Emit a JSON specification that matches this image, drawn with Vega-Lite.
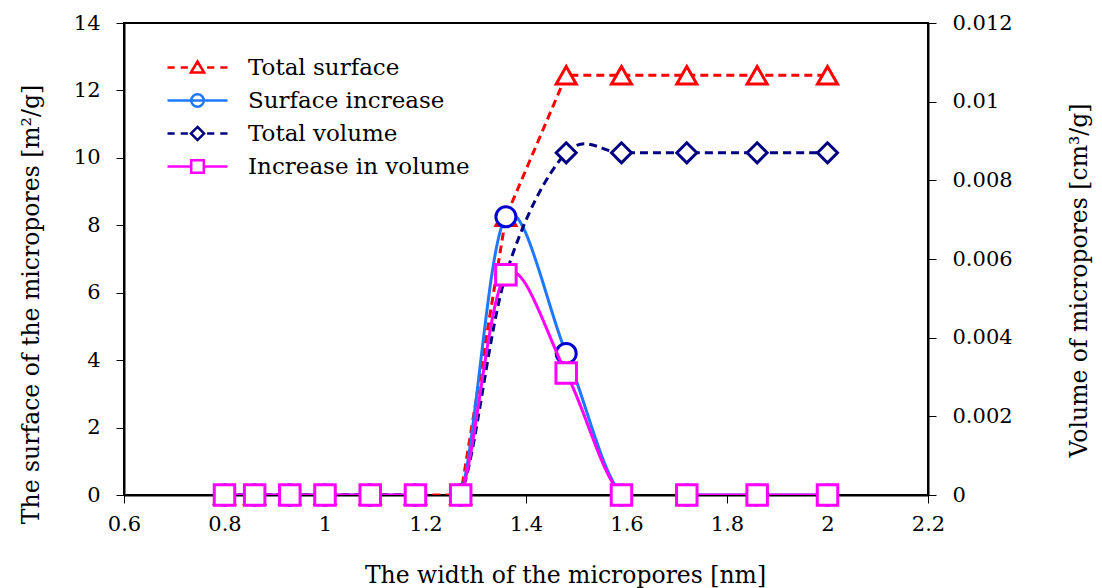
{
  "$schema": "https://vega.github.io/schema/vega-lite/v6.json",
  "autosize": "none",
  "width": 804,
  "height": 472,
  "padding": {"left": 124, "top": 23, "right": 174, "bottom": 93},
  "background": "white",
  "config": {
    "view": {"stroke": "black", "strokeWidth": 2},
    "axis": {
      "grid": false,
      "domainColor": "black",
      "domainWidth": 2,
      "tickColor": "black",
      "tickWidth": 1,
      "tickSize": 8,
      "labelFont": "DejaVu Serif",
      "labelFontSize": 21,
      "labelColor": "black",
      "labelFlush": false,
      "titleFont": "DejaVu Serif",
      "titleFontSize": 23.5,
      "titleFontWeight": "normal",
      "titleColor": "black"
    }
  },
  "data": {
    "values": [
      {"w": 0.8, "ts": 0, "si": 0, "tv": 0, "iv": 0},
      {"w": 0.86, "ts": 0, "si": 0, "tv": 0, "iv": 0},
      {"w": 0.93, "ts": 0, "si": 0, "tv": 0, "iv": 0},
      {"w": 1.0, "ts": 0, "si": 0, "tv": 0, "iv": 0},
      {"w": 1.09, "ts": 0, "si": 0, "tv": 0, "iv": 0},
      {"w": 1.18, "ts": 0, "si": 0, "tv": 0, "iv": 0},
      {"w": 1.27, "ts": 0, "si": 0, "tv": 0, "iv": 0},
      {"w": 1.36, "ts": 8.25, "si": 8.25, "tv": 0.0056, "iv": 0.0056},
      {"w": 1.48, "ts": 12.45, "si": 4.2, "tv": 0.0087, "iv": 0.0031},
      {"w": 1.59, "ts": 12.45, "si": 0, "tv": 0.0087, "iv": 0},
      {"w": 1.72, "ts": 12.45, "si": 0, "tv": 0.0087, "iv": 0},
      {"w": 1.86, "ts": 12.45, "si": 0, "tv": 0.0087, "iv": 0},
      {"w": 2.0, "ts": 12.45, "si": 0, "tv": 0.0087, "iv": 0}
    ]
  },
  "encoding": {
    "x": {
      "field": "w",
      "type": "quantitative",
      "scale": {"domain": [0.6, 2.2], "nice": false, "zero": false},
      "axis": {
        "values": [0.6, 0.8, 1, 1.2, 1.4, 1.6, 1.8, 2, 2.2],
        "format": "~g",
        "labelPadding": 10,
        "labelFlush": false,
        "title": "The width of the micropores [nm]",
        "titleX": 441,
        "titleY": 87,
        "titleBaseline": "alphabetic",
        "titleAlign": "center"
      }
    }
  },
  "layer": [
    {
      "encoding": {
        "y": {
          "type": "quantitative",
          "scale": {"domain": [0, 14], "nice": false},
          "axis": {
            "orient": "left",
            "values": [0, 2, 4, 6, 8, 10, 12, 14],
            "format": "d",
            "labelPadding": 16,
            "title": "The surface of the micropores [m²/g]",
            "titleAngle": -90,
            "titleX": -86,
            "titleY": 281,
            "titleBaseline": "alphabetic",
            "titleAlign": "center"
          }
        }
      },
      "layer": [
        {
          "mark": {"type": "line", "strokeWidth": 3, "strokeDash": [8, 5], "clip": true, "interpolate": "linear"},
          "encoding": {
            "y": {"field": "ts"},
            "color": {
              "datum": "Total surface",
              "type": "nominal",
              "scale": {
                "domain": ["Total surface", "Surface increase", "Total volume", "Increase in volume"],
                "range": ["#FF0000", "#1F78FF", "#000080", "#FF00FF"]
              },
              "legend": {
                "title": null,
                "orient": "none",
                "legendX": 57,
                "legendY": 28,
                "symbolSize": 900,
                "symbolStrokeWidth": 2.5,
                "labelFont": "DejaVu Serif",
                "labelFontSize": 23,
                "labelColor": "black",
                "labelOffset": 34,
                "rowPadding": 4,
                "labelLimit": 400,
                "encode": {
                  "symbols": {
                    "update": {
                      "shape": {"signal": "datum.value === 'Total surface' ? 'M-2,0H-1.52M-1.12,0H-0.64M0.64,0H1.12M1.52,0H2M0,-0.4L0.44,0.34L-0.44,0.34Z' : datum.value === 'Surface increase' ? 'M-2,0H2M0.42,0A0.42,0.42 0 1,1 -0.42,0A0.42,0.42 0 1,1 0.42,0Z' : datum.value === 'Total volume' ? 'M-2,0H-1.52M-1.12,0H-0.64M0.64,0H1.12M1.52,0H2M0,-0.44L0.44,0L0,0.44L-0.44,0Z' : 'M-2,0H-0.44M0.44,0H2M-0.42,-0.42H0.42V0.42H-0.42Z'"},
                      "fill": {"value": "white"},
                      "strokeWidth": {"value": 2.5},
                      "opacity": {"value": 1}
                    }
                  }
                }
              }
            }
          }
        },
        {
          "mark": {"type": "point", "shape": "triangle-up", "size": 400, "filled": true, "fill": "white", "stroke": "#FF0000", "strokeWidth": 3, "opacity": 1},
          "encoding": {"y": {"field": "ts"}}
        },
        {
          "mark": {"type": "line", "strokeWidth": 3, "clip": true, "interpolate": "cardinal"},
          "encoding": {"y": {"field": "si"}, "color": {"datum": "Surface increase", "type": "nominal"}}
        },
        {
          "mark": {"type": "point", "shape": "circle", "size": 400, "filled": true, "fill": "white", "stroke": "#0000D0", "strokeWidth": 3, "opacity": 1},
          "encoding": {"y": {"field": "si"}}
        }
      ]
    },
    {
      "encoding": {
        "y": {
          "type": "quantitative",
          "scale": {"domain": [0, 0.012], "nice": false},
          "axis": {
            "orient": "right",
            "values": [0, 0.002, 0.004, 0.006, 0.008, 0.01, 0.012],
            "format": "~g",
            "labelPadding": 16,
            "title": "Volume of micropores [cm³/g]",
            "titleAngle": -90,
            "titleX": 158,
            "titleY": 257,
            "titleBaseline": "alphabetic",
            "titleAlign": "center"
          }
        }
      },
      "layer": [
        {
          "mark": {"type": "line", "strokeWidth": 3, "strokeDash": [8, 5], "clip": true, "interpolate": "cardinal"},
          "encoding": {"y": {"field": "tv"}, "color": {"datum": "Total volume", "type": "nominal"}}
        },
        {
          "mark": {"type": "point", "shape": "diamond", "size": 400, "filled": true, "fill": "white", "stroke": "#000080", "strokeWidth": 3, "opacity": 1},
          "encoding": {"y": {"field": "tv"}}
        },
        {
          "mark": {"type": "line", "strokeWidth": 3, "clip": true, "interpolate": "cardinal"},
          "encoding": {"y": {"field": "iv"}, "color": {"datum": "Increase in volume", "type": "nominal"}}
        },
        {
          "mark": {"type": "point", "shape": "square", "size": 420, "filled": true, "fill": "white", "stroke": "#FF00FF", "strokeWidth": 3, "opacity": 1},
          "encoding": {"y": {"field": "iv"}}
        }
      ]
    }
  ],
  "resolve": {"scale": {"y": "independent"}}
}
